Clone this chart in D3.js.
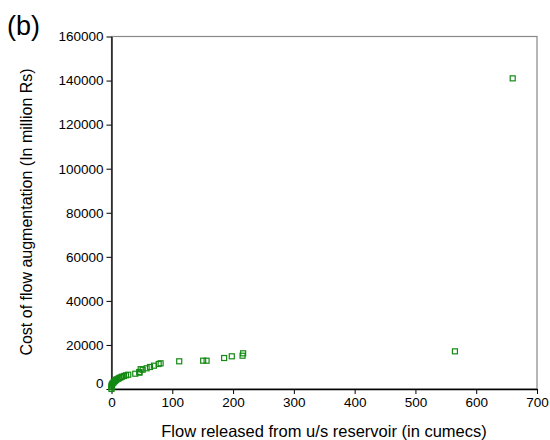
<!DOCTYPE html>
<html>
<head>
<meta charset="utf-8">
<script src="https://cdn.jsdelivr.net/npm/d3@7"></script>
<style>
  body { margin: 0; background: #fff; }
  svg text { font-family: "Liberation Sans", Arial, sans-serif; fill: #000; }
</style>
</head>
<body>
<svg width="550" height="440"></svg>
<script>
// flow released (cumecs) and cost of augmentation (million Rs)
var flow = [0, 0, 0, 0.3, 0.8, 2, 3, 4.1, 5.8, 7.4, 8.5, 11.2, 12.8, 15.1, 17.3, 20.5, 23.8, 27.6,
            39.1, 45.7, 46, 48, 51.3, 57.8, 63.3, 69.8, 77.6, 80.8,
            111.4, 150.8, 156.4, 185.3, 197.9, 215.6, 216.6, 565, 660];
var cost = [0, 770, 1230, 1680, 2130, 2590, 2860, 3310, 3630, 4090, 4400, 4680, 4990, 5310, 5580, 5900, 6220, 6490,
            6940, 7720, 7400, 9000, 8760, 9400, 9990, 10580, 11350, 11670,
            12570, 12850, 12850, 14070, 14840, 15110, 16200, 17100, 141000];
var xTicks = [0, 100, 200, 300, 400, 500, 600, 700];
var yTicks = [0, 20000, 40000, 60000, 80000, 100000, 120000, 140000, 160000];

var data = flow.map(function(f, i) { return {flow: f, cost: cost[i]}; });

var svg = d3.select("svg"),
    margin = {top: 36.5, right: 13, bottom: 51, left: 111.5},
    width = +svg.attr("width") - margin.left - margin.right,
    height = +svg.attr("height") - margin.top - margin.bottom;

var x = d3.scaleLinear().domain([0, 700]).range([0, width]),
    y = d3.scaleLinear().domain([0, 160000]).range([height, 0]);

var g = svg.append("g")
    .attr("transform", "translate(" + margin.left + "," + margin.top + ")");

// plot area border (top / right in grey)
g.append("rect")
    .attr("width", width)
    .attr("height", height)
    .attr("fill", "none")
    .attr("stroke", "#888")
    .attr("stroke-width", 1.2);

var xAxis = g.append("g")
    .attr("transform", "translate(0," + height + ")")
    .call(d3.axisBottom(x).tickValues(xTicks).tickFormat(d3.format("d"))
        .tickSizeInner(5).tickSizeOuter(0).tickPadding(3));

var yAxis = g.append("g")
    .call(d3.axisLeft(y).tickValues(yTicks).tickFormat(d3.format("d"))
        .tickSizeInner(5).tickSizeOuter(0).tickPadding(3));

[xAxis, yAxis].forEach(function(a) {
    a.select(".domain").attr("stroke", "#000").attr("stroke-width", 1.3);
    a.selectAll(".tick line").attr("stroke", "#000");
    a.selectAll("text").style("font-size", "13.5px").attr("fill", "#000");
});
yAxis.selectAll(".tick text").attr("dy", function(d) { return d === 0 ? "-0.12em" : "0.32em"; });

g.selectAll(".pt")
    .data(data)
  .enter().append("rect")
    .attr("class", "pt")
    .attr("x", function(d) { return x(d.flow) - 2.5; })
    .attr("y", function(d) { return y(d.cost) - 2.5; })
    .attr("width", 5)
    .attr("height", 5)
    .attr("fill", "none")
    .attr("stroke", "#138a13")
    .attr("stroke-width", 1.2);

svg.append("text")
    .attr("x", 324)
    .attr("y", 437)
    .attr("text-anchor", "middle")
    .style("font-size", "16.5px")
    .text("Flow released from u/s reservoir (in cumecs)");

svg.append("text")
    .attr("transform", "translate(32,212) rotate(-90)")
    .attr("text-anchor", "middle")
    .style("font-size", "16px")
    .text("Cost of flow augmentation (In million Rs)");

svg.append("text")
    .attr("x", 7)
    .attr("y", 35)
    .style("font-size", "27px")
    .text("(b)");
</script>
</body>
</html>
